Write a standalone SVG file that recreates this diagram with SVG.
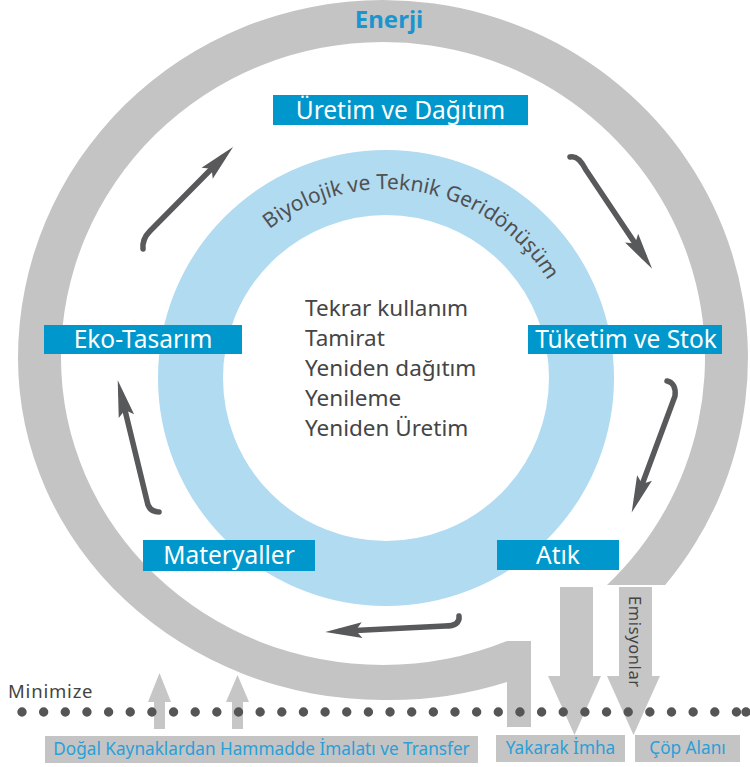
<svg xmlns="http://www.w3.org/2000/svg" width="750" height="767" viewBox="0 0 750 767">
<style>
.box{fill:#0098cc}
.bt{font-family:"Noto Sans","DejaVu Sans",sans-serif;font-size:24.5px;fill:#fff;text-anchor:middle}
.ct{font-family:"Noto Sans","DejaVu Sans",sans-serif;font-size:22.5px;fill:#454545}
.lbl{fill:#c4c4c4}
.lt{font-family:"Noto Sans","DejaVu Sans",sans-serif;font-size:17.2px;fill:#2a9fd8;text-anchor:middle}
.arr{fill:none;stroke:#58595b;stroke-width:5.5;stroke-linecap:round;stroke-linejoin:round}
.garr{fill:#c6c6c6}
</style>
<defs>
<marker id="ah" markerUnits="userSpaceOnUse" markerWidth="40" markerHeight="20" viewBox="-36 -9 38 18" refX="-14" refY="0" orient="auto">
<path d="M0,0 L-35,-7.5 L-29,0 L-35,7.5 Z" fill="#58595b"/>
</marker>
<path id="arcp" d="M197,378 A189,189 0 0 1 575,378"/>
</defs>
<g id="energy-ring">
<path fill="#c4c4c4" d="M665.2,585 A365,358 0 0 0 383,0 A365,358 0 0 0 18,358 A365,342 0 0 0 383,700 A365,342 0 0 0 507,682 L507,727 L531,727 L531,641 L507,641 A322,307 0 0 1 383,665 A322,307 0 0 1 61,358 A322,316 0 0 1 383,42 A322,316 0 0 1 607,585 Z"/>
<text x="389" y="28" font-family="Noto Sans,DejaVu Sans,sans-serif" font-size="24" font-weight="bold" fill="#1b95cf" text-anchor="middle">Enerji</text>
</g>
<g id="recycle-ring">
<circle cx="386" cy="378" r="195.5" fill="none" stroke="#b0dbf1" stroke-width="65"/>
<text font-family="Noto Sans,DejaVu Sans,sans-serif" font-size="21" fill="#505050" text-anchor="middle"><textPath href="#arcp" startOffset="55.8%">Biyolojik ve Teknik Geridönüşüm</textPath></text>
</g>
<g id="center-list">
<text class="ct" x="305" y="316">Tekrar kullanım</text>
<text class="ct" x="305" y="346">Tamirat</text>
<text class="ct" x="305" y="376">Yeniden dağıtım</text>
<text class="ct" x="305" y="406">Yenileme</text>
<text class="ct" x="305" y="436">Yeniden Üretim</text>
</g>
<g id="connectors">
<path class="arr" marker-end="url(#ah)" d="M143,249 Q142,239 150,231 L222.7,157.5"/>
<path class="arr" marker-end="url(#ah)" d="M570,157 C577,155 582,162 586,170 L643.9,256.6"/>
<path class="arr" marker-end="url(#ah)" d="M667,381 C673,382 676,388 675,396 L636.8,498.8"/>
<path class="arr" marker-end="url(#ah)" d="M459,616 C460,623 455,626 445,626 L340,631.2"/>
<path class="arr" marker-end="url(#ah)" d="M159,512 C152,512 148,508 147,501 L121.2,394.6"/>
</g>
<g id="node-uretim">
<rect class="box" x="273" y="95" width="255" height="30"/>
<text class="bt" x="400.5" y="119">Üretim ve Dağıtım</text>
</g>
<g id="node-tuketim">
<rect class="box" x="528" y="325" width="194" height="29"/>
<text class="bt" x="626" y="348">Tüketim ve Stok</text>
</g>
<g id="node-eko">
<rect class="box" x="44" y="325" width="198" height="29"/>
<text class="bt" x="143" y="348">Eko-Tasarım</text>
</g>
<g id="node-materyaller">
<rect class="box" x="143" y="540" width="172" height="31"/>
<text class="bt" x="229" y="564">Materyaller</text>
</g>
<g id="node-atik">
<rect class="box" x="497" y="540" width="122" height="30"/>
<text class="bt" x="558" y="564">Atık</text>
</g>
<g id="outputs">
<polygon class="garr" points="560,587 593,587 593,676 601,676 574.5,735 548,676 560,676"/>
<polygon class="garr" points="619,587 652,587 652,676 660,676 633.5,735 607,676 619,676"/>
<text x="0" y="0" transform="translate(629,596) rotate(90)" font-family="Noto Sans,DejaVu Sans,sans-serif" font-size="16.5" letter-spacing="0.6" fill="#444">Emisyonlar</text>
<polygon class="garr" points="154,729 165,729 165,702 171,702 159.5,673 148,702 154,702"/>
<polygon class="garr" points="232,729 243,729 243,702 249,702 237.5,675 226,702 232,702"/>
</g>
<g id="labels">
<rect class="lbl" x="45" y="736" width="433" height="27"/>
<text class="lt" x="261.5" y="755">Doğal Kaynaklardan Hammadde İmalatı ve Transfer</text>
<rect class="lbl" x="496" y="735" width="129" height="27"/>
<text class="lt" x="560.5" y="754">Yakarak İmha</text>
<rect class="lbl" x="635" y="735" width="105" height="27"/>
<text class="lt" x="687.5" y="754">Çöp Alanı</text>
</g>
<g id="minimize">
<text x="8" y="698" font-family="Noto Sans,DejaVu Sans,sans-serif" font-size="18.5" letter-spacing="0.8" fill="#444">Minimize</text>
<line x1="22" y1="712" x2="737" y2="712" stroke="#555" stroke-width="9.4" stroke-linecap="round" stroke-dasharray="0 21.65"/>
<circle cx="746" cy="712" r="4.7" fill="#555"/>
</g>
</svg>
